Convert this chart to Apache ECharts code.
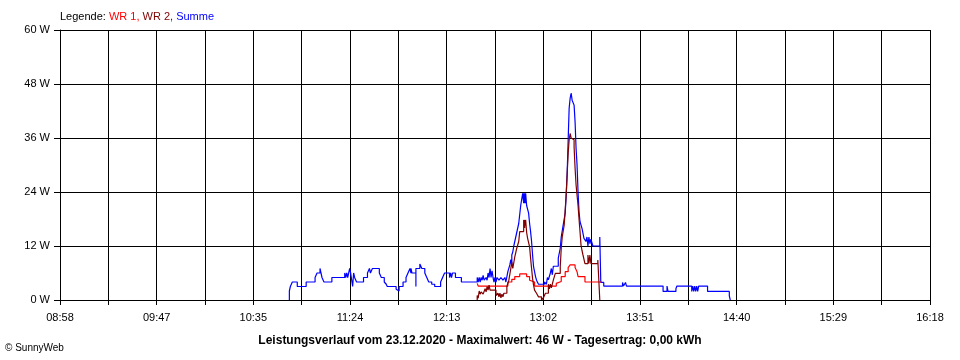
<!DOCTYPE html>
<html>
<head>
<meta charset="utf-8">
<script src="https://cdn.jsdelivr.net/npm/echarts@6/dist/echarts.min.js"></script>
<style>
html,body{margin:0;padding:0;background:#fff;}
#chart{width:960px;height:360px;}
</style>
</head>
<body>
<div id="chart"></div>
<script>
// X tick labels (every second grid line)
var xTickLabels = ["08:58","09:47","10:35","11:24","12:13","13:02","13:51","14:40","15:29","16:18"];
var xStart = "08:58:00";
var xEnd = "16:18:00";

// Summe (blue)
var sumTimes = ["10:54:00","10:54:00","10:54:30","10:55:30","10:58:00","11:02:30","11:07:00","11:08:00","11:09:30","11:10:00","11:10:30","11:11:30","11:15:30","11:22:00","11:22:30","11:23:00","11:23:30","11:24:30","11:25:00","11:26:00","11:26:30","11:27:00","11:28:00","11:31:30","11:33:30","11:34:30","11:35:00","11:36:00","11:39:30","11:40:30","11:42:00","11:43:00","11:43:30","11:48:00","11:48:30","11:49:30","11:51:30","11:53:00","11:54:00","11:55:00","11:55:30","11:55:30","11:56:00","11:58:00","11:58:00","12:00:00","12:01:00","12:02:30","12:03:30","12:04:30","12:06:00","12:07:30","12:10:30","12:11:30","12:12:30","12:15:00","12:15:30","12:16:00","12:16:30","12:18:00","12:21:00","12:29:00","12:29:30","12:30:00","12:30:30","12:31:00","12:31:30","12:32:00","12:32:30","12:33:30","12:34:00","12:34:30","12:35:00","12:35:30","12:36:00","12:36:30","12:37:00","12:37:30","12:38:00","12:38:30","12:39:00","12:40:00","12:41:00","12:42:00","12:43:00","12:43:30","12:44:30","12:45:30","12:46:00","12:46:30","12:46:30","12:47:00","12:47:30","12:48:00","12:49:00","12:50:00","12:51:00","12:52:00","12:52:30","12:52:30","12:53:00","12:53:00","12:53:30","12:53:30","12:54:00","12:55:00","12:55:30","12:56:00","12:56:30","12:57:00","12:57:30","12:58:00","12:58:30","12:59:00","13:00:00","13:03:00","13:04:00","13:04:30","13:05:00","13:06:00","13:06:30","13:07:00","13:07:30","13:10:00","13:11:00","13:11:30","13:12:30","13:13:30","13:14:00","13:14:30","13:15:00","13:15:30","13:16:00","13:16:30","13:17:00","13:18:00","13:18:30","13:19:00","13:19:30","13:20:00","13:20:30","13:21:00","13:22:00","13:22:30","13:23:00","13:24:00","13:24:30","13:25:00","13:25:30","13:26:00","13:26:30","13:27:30","13:31:00","13:31:30","13:33:00","13:42:30","13:43:00","13:44:00","13:44:30","14:03:00","14:05:00","14:05:30","14:09:30","14:10:00","14:17:30","14:18:00","14:18:30","14:19:00","14:19:30","14:20:00","14:20:30","14:21:00","14:25:30","14:36:30","14:37:00"];
var sumValues = [0,2,3,4,3,4,5,6,7,6,5,4,5,6,5,6,5,7,6,3,6,5,4,5,6,7,6,7,6,5,4,3.5,3,2.4,2,3,4,5,6,7,6,7,6,3,7,8,7,6,5,4,3.5,3,4,5,6,5,6,5,6,5,4,5,4,5,4,5,4.4,5.5,4.4,5,4.4,6,5,7,5,6.5,5,4,5,4,5,4.4,5,4.4,5,4,6.3,7.8,9,7.5,10,10.7,12,13,15,17,21,23.7,21.5,23.7,21.5,23.7,21.5,23.7,21,19.3,17,15.2,13,10,7.4,6.3,5.2,4.4,3.5,4,3.5,5,4.5,6,7,5.6,7.5,9.3,11.5,14,16.7,19.3,23.3,28.2,35.5,42.6,44.8,46,44.4,43.3,39.6,33.7,30,24,19.6,17.4,15.9,14.8,13.7,13,14,12,14,12.5,13.5,12,14,3.9,3.1,3.9,3.1,3.9,3.1,1.9,3.1,1.9,2.5,3.1,1.9,3.1,1.9,3.1,1.9,3.1,1.9,3.1,1.9,0.9,0];

// WR 1 (red)
var wr1Times = ["12:29:00","12:29:30","12:44:30","12:46:30","12:48:00","12:50:30","12:54:00","12:55:30","12:56:30","12:58:00","13:09:00","13:10:00","13:11:30","13:13:30","13:15:00","13:16:00","13:18:30","13:19:30","13:20:00","13:23:30","13:32:00"];
var wr1Values = [3.7,3.1,4,4.6,5.2,5.8,5.2,4.4,4,3.1,3.7,4.1,5.2,6.3,7.2,7.8,7.2,6.3,5.2,4,4];

// WR 2 (dark red)
var wr2Times = ["12:29:00","12:29:00","12:29:30","12:30:00","12:30:30","12:31:00","12:32:00","12:33:00","12:33:30","12:34:00","12:34:30","12:35:00","12:35:30","12:38:30","12:39:30","12:40:00","12:40:30","12:41:00","12:41:30","12:42:00","12:42:30","12:44:00","12:45:00","12:46:00","12:46:30","12:47:00","12:48:00","12:49:00","12:50:00","12:50:30","12:52:30","12:53:00","12:53:00","12:53:30","12:53:30","12:54:00","12:54:30","12:55:30","12:56:00","12:56:30","12:57:00","12:57:30","12:58:00","12:59:00","13:00:00","13:01:30","13:02:30","13:03:30","13:05:00","13:05:30","13:06:00","13:06:30","13:07:30","13:08:30","13:11:00","13:11:30","13:12:00","13:13:00","13:14:00","13:14:30","13:15:00","13:15:30","13:16:00","13:16:30","13:17:30","13:18:00","13:18:30","13:19:00","13:19:30","13:20:00","13:20:30","13:21:00","13:21:30","13:22:00","13:22:30","13:23:30","13:25:00","13:25:30","13:26:00","13:26:30","13:30:00","13:31:00"];
var wr2Values = [0,1,0.4,2,1.3,1.8,1.3,2.5,1.8,3,2.2,3.3,2.2,1,1.5,0.7,1.5,0.5,1.3,0.7,1.5,3,4.4,7,8.5,7,9.6,11.5,13,15.2,17.8,16,17.8,16.5,17.8,15,13.7,11.8,9.3,7,4.8,3.3,2.2,1.5,0.7,0,0.5,1.5,3.5,2.5,3.5,2.7,4.4,5.9,7.4,11.5,14,16.7,23.3,28,32.6,35.6,37,36,35.6,34,29.3,25.6,23.3,21,18,15.2,12.2,11,10,8.1,10,8.1,10,8.1,8.9,0];

var legendText = ["Legende: ", "WR 1, ", "WR 2, ", "Summe"];
var titleText = "Leistungsverlauf vom 23.12.2020 - Maximalwert: 46 W - Tagesertrag: 0,00 kWh";
var creditText = "\u00A9 SunnyWeb";

function toMin(s){ var p = s.split(':').map(Number); return p[0]*60 + p[1] + (p[2]||0)/60; }
var t0 = toMin(xStart), t1 = toMin(xEnd);
var span = t1 - t0; // 440 minutes
var gridStep = span / 18;
function pairs(times, vals){ return times.map(function(t,i){ return [toMin(t)-t0, vals[i]]; }); }

var chart = echarts.init(document.getElementById('chart'), null, {renderer:'canvas'});
var FONT = 'Liberation Sans, Arial, sans-serif';
chart.setOption({
  animation: false,
  backgroundColor: '#ffffff',
  grid: {left: 60, right: 30, top: 30, bottom: 60, containLabel: false},
  title: {
    text: titleText, left: 'center', top: 330,
    textStyle: {fontFamily: FONT, fontSize: 12, fontWeight: 'bold', color: '#000'}
  },
  graphic: [
    {type:'text', left: 60, top: 11, style: {
      text: '{a|' + legendText[0] + '}{b|' + legendText[1] + '}{c|' + legendText[2] + '}{d|' + legendText[3] + '}',
      rich: {
        a: {fill:'#000', fontSize: 11, fontFamily: FONT},
        b: {fill:'#ff0000', fontSize: 11, fontFamily: FONT},
        c: {fill:'#800000', fontSize: 11, fontFamily: FONT},
        d: {fill:'#0000ff', fontSize: 11, fontFamily: FONT}
      }
    }},
    {type:'text', left: 5, top: 343, style: {text: creditText, fill:'#000', fontSize: 10, fontFamily: FONT}}
  ],
  xAxis: {
    type: 'value', min: 0, max: span, interval: gridStep,
    axisLine: {show: true, lineStyle: {color: '#000', width: 1}},
    axisTick: {show: true, length: 5, lineStyle: {color: '#000'}},
    axisLabel: {
      show: true, margin: 12, color: '#000', fontSize: 11, fontFamily: FONT,
      showMinLabel: true, showMaxLabel: true,
      formatter: function(v){
        var k = Math.round(v / gridStep);
        if (k % 2 !== 0) return '';
        return xTickLabels[k/2] || '';
      }
    },
    splitLine: {show: true, lineStyle: {color: '#000', width: 1}}
  },
  yAxis: {
    type: 'value', min: 0, max: 60, interval: 12,
    axisLine: {show: true, lineStyle: {color: '#000', width: 1}},
    axisTick: {show: true, length: 6, lineStyle: {color: '#000'}},
    axisLabel: {color: '#000', fontSize: 11, fontFamily: FONT, margin: 10, formatter: '{value} W'},
    splitLine: {show: true, lineStyle: {color: '#000', width: 1}}
  },
  series: [
    {name:'Summe', type:'line', step:'end', showSymbol:false, data: pairs(sumTimes, sumValues),
     lineStyle:{color:'#0000ff', width:1.2}, itemStyle:{color:'#0000ff'}, z: 2},
    {name:'WR 1', type:'line', step:'end', showSymbol:false, data: pairs(wr1Times, wr1Values),
     lineStyle:{color:'#ff0000', width:1.2}, itemStyle:{color:'#ff0000'}, z: 3},
    {name:'WR 2', type:'line', step:'end', showSymbol:false, data: pairs(wr2Times, wr2Values),
     lineStyle:{color:'#800000', width:1.2}, itemStyle:{color:'#800000'}, z: 4}
  ]
});
</script>
</body>
</html>
